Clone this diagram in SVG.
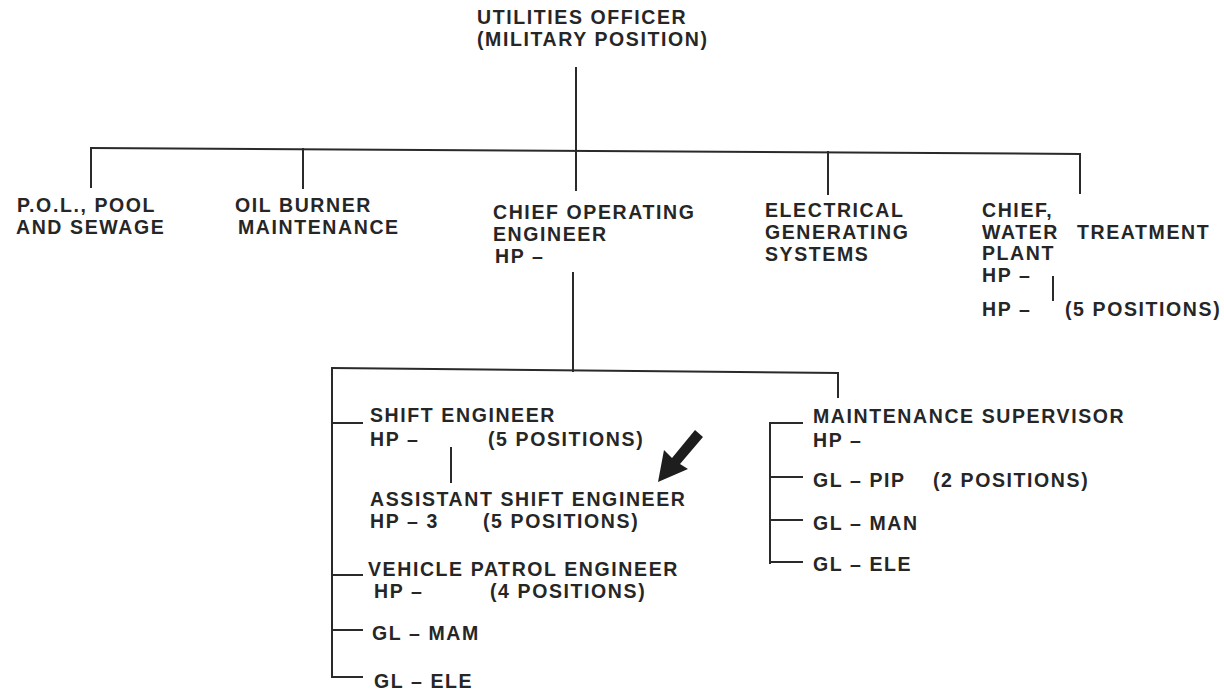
<svg xmlns="http://www.w3.org/2000/svg" width="1224" height="695" viewBox="0 0 1224 695">
<style>
text{font-family:"Liberation Sans",Arial,sans-serif;font-weight:bold;font-size:19.5px;letter-spacing:1.6px;fill:#262626}
.c line{stroke:#2a2a2a;stroke-width:2;stroke-linecap:square}
</style>
<rect width="1224" height="695" fill="#ffffff"/>
<g class="c" id="connectors">
<line x1="576" y1="68" x2="576" y2="151"/>
<line x1="91" y1="148" x2="1080" y2="154"/>
<line x1="91" y1="148" x2="91" y2="187"/>
<line x1="303" y1="149" x2="303" y2="188"/>
<line x1="576" y1="151" x2="576" y2="190"/>
<line x1="828" y1="152" x2="828" y2="194"/>
<line x1="1080" y1="154" x2="1080" y2="193"/>
<line x1="1053" y1="277" x2="1053" y2="300"/>
<line x1="573" y1="273" x2="573" y2="371"/>
<line x1="332" y1="368" x2="838" y2="373"/>
<line x1="838" y1="373" x2="838" y2="397"/>
<line x1="332" y1="368" x2="332" y2="677"/>
<line x1="332" y1="423" x2="362" y2="423"/>
<line x1="332" y1="575" x2="362" y2="575"/>
<line x1="332" y1="630" x2="362" y2="630"/>
<line x1="332" y1="677" x2="362" y2="677"/>
<line x1="451" y1="448" x2="451" y2="482"/>
<line x1="770" y1="423" x2="770" y2="563"/>
<line x1="770" y1="423" x2="802" y2="423"/>
<line x1="770" y1="477" x2="802" y2="477"/>
<line x1="770" y1="520" x2="802" y2="520"/>
<line x1="770" y1="562" x2="802" y2="562"/>
</g>
<g id="arrow">
<polygon points="695,430 672,458 664,450 658,482 688,469 680,464 703,437" fill="#1e1e1e"/>
</g>
<g id="utilities-officer">
<text x="477" y="24">UTILITIES OFFICER</text>
<text x="477" y="46">(MILITARY POSITION)</text>
</g>
<g id="pol-pool-sewage">
<text x="17" y="212">P.O.L., POOL</text>
<text x="16" y="234">AND SEWAGE</text>
</g>
<g id="oil-burner">
<text x="235" y="212">OIL BURNER</text>
<text x="238" y="234">MAINTENANCE</text>
</g>
<g id="chief-operating-engineer">
<text x="493" y="219">CHIEF OPERATING</text>
<text x="493" y="241">ENGINEER</text>
<text x="495" y="263">HP –</text>
</g>
<g id="electrical">
<text x="765" y="217">ELECTRICAL</text>
<text x="765" y="239">GENERATING</text>
<text x="765" y="261">SYSTEMS</text>
</g>
<g id="chief-water">
<text x="982" y="217">CHIEF,</text>
<text x="982" y="239">WATER</text>
<text x="1077" y="239">TREATMENT</text>
<text x="982" y="260">PLANT</text>
<text x="982" y="282">HP –</text>
</g>
<g id="water-hp">
<text x="982" y="316">HP –</text>
<text x="1065" y="316">(5 POSITIONS)</text>
</g>
<g id="shift-engineer">
<text x="370" y="422">SHIFT ENGINEER</text>
<text x="370" y="446">HP –</text>
<text x="488" y="446">(5 POSITIONS)</text>
</g>
<g id="assistant-shift-engineer">
<text x="370" y="506">ASSISTANT SHIFT ENGINEER</text>
<text x="370" y="528">HP – 3</text>
<text x="483" y="528">(5 POSITIONS)</text>
</g>
<g id="vehicle-patrol-engineer">
<text x="368" y="576">VEHICLE PATROL ENGINEER</text>
<text x="374" y="598">HP –</text>
<text x="490" y="598">(4 POSITIONS)</text>
</g>
<g id="gl-mam"><text x="372" y="640">GL – MAM</text></g>
<g id="gl-ele-left"><text x="374" y="688">GL – ELE</text></g>
<g id="maintenance-supervisor">
<text x="813" y="423">MAINTENANCE SUPERVISOR</text>
<text x="813" y="447">HP –</text>
</g>
<g id="gl-pip">
<text x="813" y="487">GL – PIP</text>
<text x="933" y="487">(2 POSITIONS)</text>
</g>
<g id="gl-man"><text x="813" y="530">GL – MAN</text></g>
<g id="gl-ele-right"><text x="813" y="571">GL – ELE</text></g>
</svg>
